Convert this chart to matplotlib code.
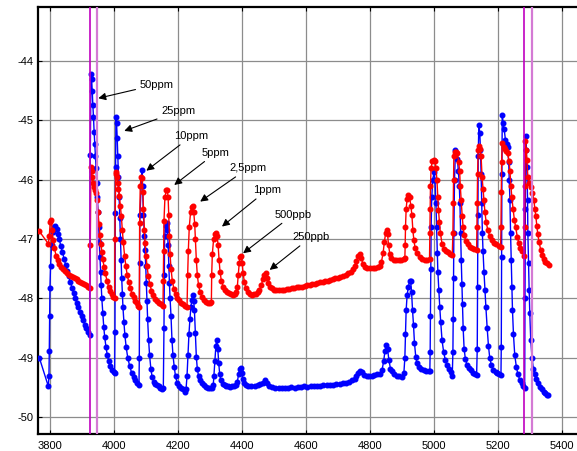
import matplotlib
matplotlib.use('Agg')
import matplotlib.pyplot as plt

plt.rcParams['font.family'] = 'Liberation Sans'
plt.rcParams['axes.unicode_minus'] = False

# blue trace
blue_x = [3768, 3796, 3798, 3799, 3800, 3801, 3803, 3806, 3810, 3814, 3818, 3822, 3826, 3830, 3835, 3840,
          3845, 3850, 3855, 3860, 3865, 3870, 3875, 3880, 3885, 3890, 3895, 3900, 3905, 3910, 3915, 3920,
          3925, 3927, 3929, 3931, 3933, 3935, 3937, 3939, 3941, 3943, 3945, 3947, 3949, 3951, 3953, 3955,
          3957, 3959, 3961, 3963, 3966, 3969, 3972, 3976, 3980, 3985, 3990, 3995, 4000, 4003, 4004, 4005,
          4006, 4007, 4009, 4011, 4013, 4015, 4017, 4019, 4021, 4023, 4025, 4027, 4029, 4032, 4035, 4039,
          4044, 4050, 4056, 4062, 4068, 4074, 4079, 4080, 4081, 4082, 4088, 4090, 4093, 4096, 4098, 4100,
          4102, 4104, 4106, 4109, 4112, 4116, 4120, 4125, 4130, 4135, 4140, 4145, 4150, 4155, 4157, 4158,
          4159, 4162, 4166, 4168, 4170, 4172, 4174, 4176, 4179, 4182, 4185, 4189, 4193, 4198, 4204, 4210,
          4216, 4222, 4226, 4229, 4232, 4235, 4238, 4241, 4244, 4247, 4250, 4252, 4255, 4258, 4261, 4265,
          4270, 4276, 4282, 4288, 4294, 4300, 4306, 4311, 4313, 4316, 4319, 4322, 4325, 4328, 4331, 4335,
          4340, 4346, 4352, 4358, 4364, 4370, 4376, 4382, 4386, 4390, 4394, 4397, 4400, 4403, 4406, 4412,
          4420, 4430, 4440, 4450, 4458, 4465, 4472, 4478, 4485, 4495, 4505, 4515, 4525, 4535, 4545, 4555,
          4565, 4575, 4585, 4595, 4605, 4615, 4625, 4635, 4645, 4655, 4665, 4675, 4685, 4695, 4705, 4715,
          4725, 4735, 4745, 4752, 4758, 4764, 4770, 4776, 4782, 4790, 4798, 4806, 4814, 4822, 4830, 4838,
          4843, 4847, 4851, 4855, 4859, 4864, 4869, 4876, 4884, 4892, 4900, 4906, 4909, 4911, 4913, 4916,
          4920, 4924, 4927, 4930, 4933, 4936, 4939, 4943, 4947, 4953, 4960, 4968, 4976, 4984, 4987, 4988,
          4989, 4990, 4991, 4993, 4996, 5000, 5003, 5006, 5008, 5010, 5012, 5015, 5018, 5021, 5025, 5030,
          5035, 5041, 5047, 5052, 5057, 5059, 5060, 5061, 5062, 5064, 5067, 5070, 5073, 5076, 5079, 5081,
          5083, 5085, 5087, 5089, 5091, 5094, 5098, 5103, 5109, 5115, 5121, 5127, 5133, 5135, 5136, 5137,
          5138, 5140, 5143, 5145, 5147, 5149, 5151, 5153, 5156, 5159, 5162, 5166, 5170, 5174, 5179, 5185,
          5192, 5198, 5204, 5209, 5210, 5211, 5212, 5213, 5216, 5219, 5223, 5227, 5230, 5233, 5235, 5237,
          5239, 5241, 5243, 5245, 5248, 5252, 5257, 5262, 5268, 5274, 5279, 5283, 5284, 5285, 5286, 5288,
          5290, 5292, 5293, 5295, 5297, 5299, 5302, 5306, 5310, 5314, 5319, 5324, 5330, 5336, 5342, 5348,
          5354, 5357]
blue_y = [-49.00, -49.48, -49.30, -48.88, -48.30, -47.83, -47.45, -47.10, -46.88, -46.80, -46.78, -46.83,
          -46.92, -47.00, -47.12, -47.22, -47.33, -47.43, -47.53, -47.63, -47.73, -47.82, -47.91, -47.99,
          -48.07, -48.15, -48.23, -48.30, -48.37, -48.44, -48.50, -48.56, -48.61, -45.58, -44.22, -44.30,
          -44.50, -44.75, -44.95, -45.20, -45.40, -45.60, -45.80, -46.05, -46.30, -46.55, -46.80, -47.05,
          -47.30, -47.55, -47.78, -48.00, -48.25, -48.48, -48.65, -48.82, -48.95, -49.06, -49.14, -49.20,
          -49.24, -49.25, -48.56, -46.56, -45.78, -44.95, -45.05, -45.30, -45.60, -45.95, -46.30, -46.65,
          -47.00, -47.35, -47.65, -47.92, -48.15, -48.40, -48.62, -48.82, -49.00, -49.14, -49.25, -49.32,
          -49.38, -49.43, -49.46, -49.00, -47.40, -46.60, -45.83, -46.10, -46.60, -46.95, -47.18, -47.45,
          -47.74, -48.05, -48.35, -48.70, -48.95, -49.18, -49.32, -49.40, -49.44, -49.46, -49.48, -49.50,
          -49.52, -49.50, -48.50, -47.60, -46.95, -46.78, -46.73, -46.85, -47.10, -47.45, -47.74, -48.00,
          -48.30, -48.70, -48.95, -49.15, -49.31, -49.42, -49.47, -49.50, -49.53, -49.57, -49.52, -49.30,
          -48.95, -48.60, -48.35, -48.15, -48.02, -47.94, -48.05, -48.19, -48.58, -48.98, -49.18, -49.31,
          -49.38, -49.43, -49.46, -49.49, -49.51, -49.50, -49.50, -49.45, -49.30, -49.05, -48.80, -48.70,
          -48.85, -49.09, -49.28, -49.38, -49.44, -49.46, -49.48, -49.48, -49.49, -49.48, -49.47, -49.45,
          -49.40, -49.28, -49.18, -49.17, -49.25, -49.36, -49.43, -49.46, -49.48, -49.48, -49.47, -49.46,
          -49.44, -49.42, -49.38, -49.42, -49.47, -49.49, -49.50, -49.50, -49.51, -49.50, -49.51, -49.49,
          -49.50, -49.49, -49.49, -49.48, -49.49, -49.48, -49.48, -49.47, -49.47, -49.46, -49.46, -49.45,
          -49.45, -49.44, -49.44, -49.43, -49.43, -49.41, -49.38, -49.35, -49.30, -49.25, -49.22, -49.24,
          -49.29, -49.30, -49.31, -49.30, -49.29, -49.28, -49.27, -49.20, -49.05, -48.88, -48.78, -48.85,
          -49.03, -49.18, -49.23, -49.28, -49.30, -49.31, -49.33, -49.25, -49.00, -48.60, -48.20, -47.95,
          -47.80, -47.71, -47.70, -47.90, -48.20, -48.45, -48.75, -48.98, -49.09, -49.15, -49.18, -49.20,
          -49.22, -49.23, -49.22, -48.90, -48.30, -47.50, -46.80, -46.30, -46.00, -45.88, -46.00, -46.40,
          -46.80, -47.24, -47.55, -47.85, -48.15, -48.40, -48.70, -48.90, -49.03, -49.12, -49.18, -49.24,
          -49.30, -48.90, -48.35, -47.65, -46.90, -46.00, -45.50, -45.55, -45.65, -45.85, -46.10, -46.40,
          -46.90, -47.35, -47.75, -48.10, -48.50, -48.85, -49.02, -49.12, -49.17, -49.21, -49.25, -49.27,
          -49.29, -48.85, -47.80, -46.60, -45.60, -45.08, -45.22, -45.50, -45.90, -46.40, -46.90, -47.20,
          -47.55, -47.85, -48.15, -48.50, -48.80, -49.00, -49.12, -49.20, -49.24, -49.26, -49.28, -49.29,
          -48.82, -47.30, -45.90, -44.91, -45.05, -45.15, -45.33, -45.40, -45.45, -45.70, -46.00, -46.34,
          -46.90, -47.35, -47.80, -48.20, -48.60, -48.95, -49.15, -49.28, -49.37, -49.42, -49.47, -49.51,
          -48.00, -46.50, -45.27, -45.50, -45.78, -46.34, -46.90, -47.40, -47.85, -48.25, -48.70, -49.00,
          -49.18, -49.28, -49.36, -49.43, -49.49, -49.53, -49.57, -49.60, -49.62, -49.63]

# red trace
red_x = [3768, 3796, 3799, 3802, 3805, 3808, 3811, 3815, 3820, 3825, 3830, 3836, 3842, 3848, 3854, 3860,
         3866, 3872, 3878, 3884, 3890, 3896, 3902, 3908, 3914, 3920, 3925, 3927, 3929, 3931, 3933, 3936,
         3939, 3942, 3945, 3948, 3951, 3954, 3957, 3960, 3963, 3966, 3970, 3974, 3979, 3984, 3989, 3994,
         3999, 4003, 4004, 4006, 4008, 4010, 4012, 4015, 4018, 4021, 4024, 4027, 4030, 4034, 4038, 4042,
         4047, 4052, 4057, 4062, 4067, 4072, 4077, 4080, 4081, 4083, 4086, 4089, 4091, 4093, 4096, 4098,
         4101, 4104, 4108, 4113, 4118, 4124, 4130, 4136, 4142, 4148, 4154, 4155, 4156, 4157, 4160, 4164,
         4167, 4170, 4172, 4174, 4176, 4179, 4183, 4188, 4193, 4199, 4205, 4211, 4217, 4223, 4229, 4231,
         4233, 4236, 4240, 4244, 4247, 4250, 4253, 4255, 4258, 4261, 4265, 4270, 4276, 4282, 4288, 4294,
         4300, 4305, 4306, 4308, 4312, 4316, 4320, 4323, 4326, 4329, 4332, 4336, 4342, 4348, 4354, 4360,
         4366, 4372, 4378, 4383, 4386, 4389, 4392, 4395, 4398, 4401, 4404, 4408, 4413, 4419, 4425, 4431,
         4437, 4443, 4449, 4455, 4461, 4466, 4470, 4474, 4478, 4482, 4488, 4494, 4500, 4508, 4516, 4524,
         4532, 4540, 4548, 4556, 4564, 4572, 4580, 4588, 4596, 4604, 4612, 4620, 4628, 4636, 4644, 4652,
         4660, 4668, 4676, 4684, 4692, 4700, 4708, 4716, 4724, 4732, 4740, 4747, 4753, 4758, 4763, 4768,
         4773, 4778, 4784, 4792, 4800, 4808, 4816, 4824, 4830, 4836, 4841, 4845, 4849, 4852, 4855, 4858,
         4862, 4867, 4874, 4882, 4890, 4898, 4905, 4909, 4910, 4911, 4913, 4916, 4920, 4924, 4928, 4931,
         4934, 4937, 4941, 4947, 4955, 4963, 4971, 4979, 4986, 4987, 4988, 4989, 4991, 4995, 4999, 5003,
         5006, 5009, 5012, 5014, 5017, 5020, 5025, 5031, 5037, 5043, 5050, 5057, 5059, 5060, 5061, 5062,
         5066, 5070, 5073, 5077, 5080, 5082, 5085, 5088, 5091, 5094, 5099, 5105, 5112, 5119, 5126, 5133,
         5134, 5135, 5136, 5138, 5141, 5144, 5147, 5150, 5153, 5156, 5159, 5163, 5168, 5174, 5181, 5188,
         5195, 5202, 5208, 5209, 5210, 5211, 5213, 5217, 5221, 5225, 5230, 5234, 5237, 5240, 5243, 5247,
         5251, 5255, 5260, 5265, 5270, 5276, 5282, 5283, 5284, 5285, 5288, 5290, 5293, 5297, 5302, 5307,
         5312, 5315, 5318, 5321, 5324, 5328, 5333, 5338, 5343, 5348, 5353, 5358]
red_y = [-46.87, -47.08, -46.95, -46.72, -46.68, -46.85, -47.02, -47.15, -47.28, -47.36, -47.42, -47.47,
         -47.51, -47.54, -47.57, -47.60, -47.62, -47.64, -47.66, -47.68, -47.70, -47.72, -47.74, -47.76,
         -47.78, -47.80, -47.82, -47.10, -45.78, -45.85, -45.95, -46.05, -46.12, -46.17, -46.22, -46.35,
         -46.55, -46.75, -46.93, -47.08, -47.22, -47.34, -47.47, -47.58, -47.70, -47.80, -47.87, -47.93,
         -47.97, -48.00, -47.00, -45.87, -45.90, -45.95, -46.05, -46.15, -46.28, -46.45, -46.62, -46.85,
         -47.05, -47.28, -47.45, -47.60, -47.72, -47.82, -47.92, -47.98, -48.04, -48.08, -48.12, -48.14,
         -46.73, -46.10, -45.95, -45.98, -46.20, -46.50, -46.85, -47.07, -47.28, -47.45, -47.62, -47.76,
         -47.87, -47.95, -48.01, -48.05, -48.08, -48.10, -48.12, -47.70, -47.20, -46.70, -46.30, -46.18,
         -46.17, -46.30, -46.60, -46.95, -47.25, -47.50, -47.70, -47.84, -47.93, -47.99, -48.03, -48.07,
         -48.10, -48.12, -48.14, -47.60, -47.20, -46.80, -46.55, -46.46, -46.45, -46.55, -46.75, -47.00,
         -47.35, -47.60, -47.78, -47.90, -47.98, -48.03, -48.06, -48.08, -48.08, -48.06, -47.60, -47.25,
         -47.00, -46.92, -46.90, -46.95, -47.10, -47.35, -47.55, -47.70, -47.80, -47.86, -47.89, -47.91,
         -47.93, -47.94, -47.93, -47.90, -47.80, -47.60, -47.40, -47.30, -47.29, -47.40, -47.58, -47.72,
         -47.83, -47.90, -47.93, -47.94, -47.93, -47.92, -47.90, -47.86, -47.78, -47.67, -47.60, -47.58,
         -47.66, -47.74, -47.80, -47.83, -47.85, -47.86, -47.86, -47.85, -47.85, -47.84, -47.84, -47.83,
         -47.82, -47.81, -47.80, -47.80, -47.79, -47.78, -47.77, -47.76, -47.75, -47.74, -47.73, -47.72,
         -47.71, -47.70, -47.69, -47.67, -47.66, -47.65, -47.64, -47.62, -47.60, -47.58, -47.55, -47.51,
         -47.45, -47.37, -47.29, -47.26, -47.32, -47.42, -47.47, -47.49, -47.49, -47.48, -47.48, -47.47,
         -47.45, -47.38, -47.24, -47.05, -46.90, -46.85, -46.92, -47.10, -47.25, -47.32, -47.35, -47.36,
         -47.36, -47.35, -47.34, -47.32, -47.10, -46.80, -46.50, -46.32, -46.26, -46.30, -46.45, -46.60,
         -46.85, -47.01, -47.15, -47.24, -47.30, -47.34, -47.36, -47.36, -47.34, -46.90, -46.50, -46.10,
         -45.80, -45.68, -45.67, -45.68, -45.80, -46.00, -46.30, -46.51, -46.72, -46.90, -47.08, -47.16,
         -47.20, -47.22, -47.25, -47.27, -46.90, -46.40, -46.00, -45.61, -45.53, -45.53, -45.56, -45.70,
         -45.85, -46.10, -46.35, -46.62, -46.80, -46.93, -47.03, -47.09, -47.13, -47.15, -47.17, -47.18,
         -46.80, -46.40, -45.90, -45.50, -45.44, -45.48, -45.61, -45.95, -46.15, -46.35, -46.55, -46.72,
         -46.85, -46.95, -47.02, -47.06, -47.09, -47.11, -47.13, -46.80, -46.20, -45.70, -45.39, -45.45,
         -45.48, -45.52, -45.56, -45.68, -45.85, -46.10, -46.30, -46.50, -46.68, -46.80, -46.96, -47.07,
         -47.15, -47.21, -47.29, -46.80, -46.10, -45.35, -45.50, -45.67, -45.95, -46.05, -46.12, -46.22,
         -46.35, -46.50, -46.62, -46.78, -46.92, -47.05, -47.18, -47.27, -47.33, -47.38, -47.41, -47.43]

# vertical markers
vlines_dark = [3925, 5281]
vlines_light = [3947, 5305]

# annotations: label, text position, arrow tip
labels = ['50ppm', '25ppm', '10ppm', '5ppm', '2,5ppm', '1ppm', '500ppb', '250ppb']
text_x = [4081, 4148, 4189, 4275, 4361, 4434, 4502, 4557]
text_y = [-44.40, -44.85, -45.27, -45.55, -45.81, -46.18, -46.59, -46.97]
tip_x = [3952, 4033, 4102, 4189, 4270, 4338, 4404, 4487]
tip_y = [-44.63, -45.18, -45.85, -46.09, -46.37, -46.79, -47.24, -47.52]

fig = plt.figure(figsize=(5.77, 4.51), dpi=100)
ax = fig.add_axes([0.066, 0.038, 0.936, 0.947])

ax.plot(blue_x, blue_y, color='#0000FF', marker='o', markersize=3.3, linewidth=1, zorder=3)
ax.plot(red_x, red_y, color='#FF0000', marker='o', markersize=3.3, linewidth=1, zorder=4)

for v in vlines_dark:
    ax.axvline(v, color='#C000C0', linewidth=1.2, zorder=5)
for v in vlines_light:
    ax.axvline(v, color='#D47AD4', linewidth=1.6, zorder=5)

for lab, tx, ty, px, py in zip(labels, text_x, text_y, tip_x, tip_y):
    ax.annotate(lab, xy=(px, py), xytext=(tx, ty), fontsize=8, ha='left', va='center',
                arrowprops=dict(arrowstyle='-|>', color='black', lw=0.8, mutation_scale=11,
                                shrinkA=1, shrinkB=0), zorder=6)

ax.set_xlim(3764, 5450)
ax.set_ylim(-50.28, -43.09)
ax.set_xticks(range(3800, 5401, 200))
ax.set_yticks(range(-50, -43))
ax.grid(True, color='#8c8c8c', linewidth=0.9)
ax.set_axisbelow(True)
ax.tick_params(direction='in', top=True, right=False, length=3, labelsize=8, pad=3)
ax.tick_params(axis='x', pad=5)
for s in ['left', 'bottom', 'top']:
    ax.spines[s].set_linewidth(1.6)
ax.spines['right'].set_visible(False)

plt.savefig('out.png', dpi=100)
